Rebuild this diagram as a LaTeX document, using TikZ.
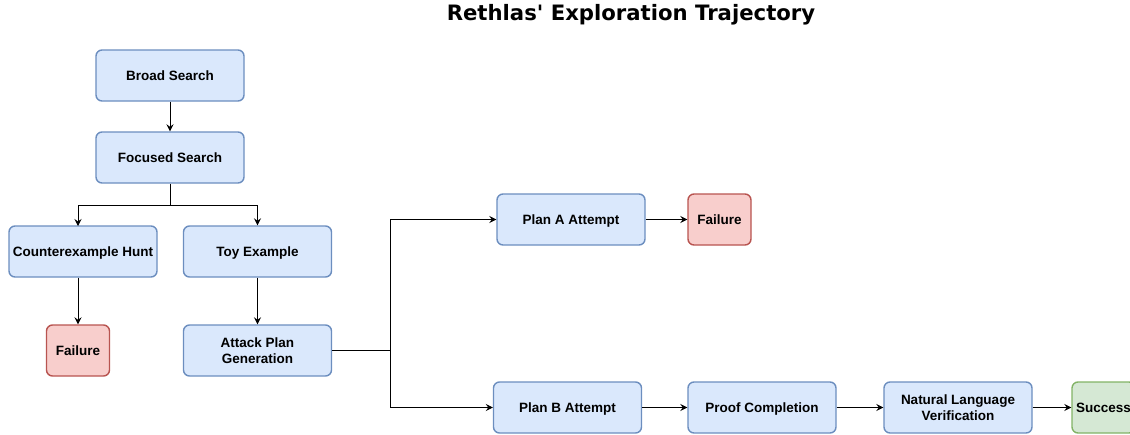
\documentclass[tikz,border=0pt]{standalone}
\usepackage{fontspec}
\setmainfont{Liberation Sans}
\newfontfamily\titlefont{DejaVu Sans}
\usetikzlibrary{arrows.meta}
\definecolor{bfill}{HTML}{DAE8FC}
\definecolor{bdraw}{HTML}{6C8EBF}
\definecolor{rfill}{HTML}{F8CECC}
\definecolor{rdraw}{HTML}{B85450}
\definecolor{gfill}{HTML}{D5E8D4}
\definecolor{gdraw}{HTML}{82B366}
\tikzset{
  box/.style={rectangle, rounded corners=6pt, line width=1.4pt, inner sep=0pt,
    minimum height=51pt, align=center, text height=12.2pt, text depth=2.9pt,
    font=\fontsize{13.5}{16}\selectfont\bfseries},
  twoline/.style={text height=28.2pt},
  bluebox/.style={box, fill=bfill, draw=bdraw, minimum width=148pt},
  redbox/.style={box, fill=rfill, draw=rdraw, minimum width=63pt},
  greenbox/.style={box, fill=gfill, draw=gdraw, minimum width=63pt},
  conn/.style={line width=0.9pt, draw=black},
  arr/.style={conn, -{Stealth[length=7pt,width=7pt,inset=2.5pt]}}
}
\begin{document}
\begin{tikzpicture}[x=1pt,y=-1pt]
\useasboundingbox (0,0) rectangle (1130,434);
\clip (0,0) rectangle (1130,434);
\node[font=\titlefont\fontsize{21.2}{24}\selectfont\bfseries] (title) at (631,15) {Rethlas' Exploration Trajectory};
\node[bluebox] (broad) at (170,75.5) {Broad Search};
\node[bluebox] (focused) at (170,157.5) {Focused Search};
\node[bluebox] (counter) at (83,251.5) {Counterexample Hunt};
\node[bluebox] (toy) at (257.5,251.5) {Toy Example};
\node[redbox] (fail1) at (78,350.5) {Failure};
\node[bluebox, twoline] (attack) at (257.5,350.5) {Attack Plan\\Generation};
\node[bluebox] (planA) at (571,219.5) {Plan A Attempt};
\node[redbox] (fail2) at (719.5,219.5) {Failure};
\node[bluebox] (planB) at (567.5,407.5) {Plan B Attempt};
\node[bluebox] (proof) at (762,407.5) {Proof Completion};
\node[bluebox, twoline] (nlv) at (958,407.5) {Natural Language\\Verification};
\node[greenbox] (succ) at (1103.5,407.5) {Success};
\coordinate (split) at (170,205);
\coordinate (ctop) at (78,226);
\coordinate (forkx) at (390,0);
\draw[arr] (broad) -- (focused);
\draw[conn] (focused.south) -- (split);
\draw[arr] (split) -| (ctop);
\draw[arr] (split) -| (toy.north);
\draw[arr] (fail1.north |- counter.south) -- (fail1.north);
\draw[arr] (toy) -- (attack);
\draw[conn] (attack.east) -- (attack.east -| forkx) coordinate (fork);
\draw[arr] (fork) |- (planA.west);
\draw[arr] (fork) |- (planB.west);
\draw[arr] (planA) -- (fail2);
\draw[arr] (planB) -- (proof);
\draw[arr] (proof) -- (nlv);
\draw[arr] (nlv) -- (succ);
\end{tikzpicture}
\end{document}
